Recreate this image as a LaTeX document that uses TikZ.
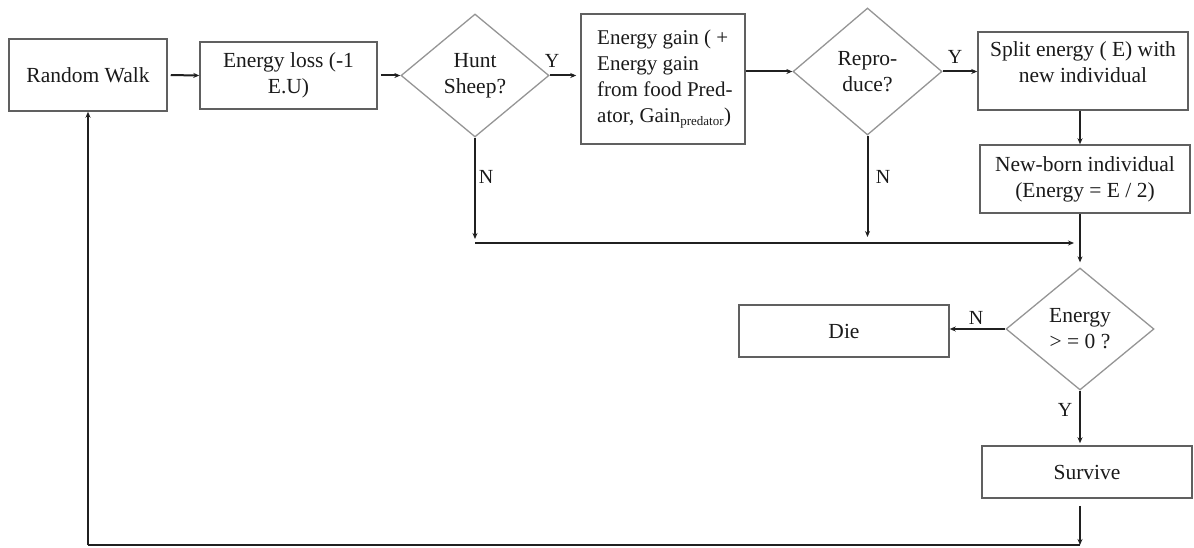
\documentclass[tikz,border=0pt]{standalone}
\usepackage{fontspec}
\setmainfont{Liberation Serif}
\usetikzlibrary{arrows.meta,shapes.geometric}
\definecolor{boxgray}{HTML}{606060}
\definecolor{diagray}{HTML}{959595}
\definecolor{linecol}{HTML}{202020}
\definecolor{txtcol}{HTML}{1A1A1A}
\begin{document}
\begin{tikzpicture}[x=1pt,y=-1pt,
  every node/.style={text=txtcol, font=\fontsize{21.5}{26}\selectfont},
  box/.style={draw=boxgray, line width=1.5pt, rectangle, inner sep=0pt, align=center},
  dia/.style={draw=diagray, line width=1.3pt, diamond, inner sep=0pt, align=center},
  conn/.style={draw=linecol, line width=2pt},
  arr/.style={conn, -{Stealth[length=6pt,width=5pt]}},
  lbl/.style={font=\fontsize{20}{24}\selectfont}]
\useasboundingbox (0,0) rectangle (1194,548);

% nodes
\node[box, minimum width=158, minimum height=72] (rw) at (88,75) {Random Walk};
\node[box, minimum width=177, minimum height=67] (el) at (288.5,75.5) {Energy loss (-1\\E.U)};
\node[dia, minimum width=148, minimum height=123] (hunt) at (475,75.5) {Hunt\\Sheep?};
\node[box, minimum width=164, minimum height=130] (gain) at (663,79) {};
\node[anchor=west, align=left, inner sep=0pt, font=\fontsize{21}{26}\selectfont] (gaintxt) at (597,79)
  {Energy gain ( +\\Energy gain\\from food Pred-\\ator, Gain\textsubscript{\fontsize{13}{14}\selectfont predator})};
\node[dia, minimum width=149, minimum height=127] (repro) at (867.5,71.5) {Repro-\\duce?};
\node[box, minimum width=210, minimum height=78] (split) at (1083,71) {};
\node[align=center, inner sep=0pt] (splittxt) at (1083,62) {Split energy ( E) with\\new individual};
\node[box, minimum width=210, minimum height=68] (newborn) at (1085,179) {New-born individual\\(Energy = E / 2)};
\node[dia, minimum width=148, minimum height=122] (energy) at (1080,329) {Energy\\> = 0 ?};
\node[box, minimum width=210, minimum height=52] (die) at (844,331) {Die};
\node[box, minimum width=210, minimum height=52] (survive) at (1087,472) {Survive};

% helper coordinates
\coordinate (hline) at (475,243);
\coordinate (bl) at (1080,545);
\coordinate (bll) at (88,545);

% connectors
\draw[arr, shorten <=3pt] (rw.east) -- (el.west);
\draw[arr, shorten <=3pt] (el.east) -- (hunt.west);
\draw[arr, shorten >=4pt] (hunt.east) -- (hunt.east -| gain.west);
\draw[arr] (repro.west -| gain.east) -- (repro.west);
\draw[arr] (repro.east) -- (repro.east -| split.west);
\draw[arr] (split.south -| energy.north) -- (newborn.north -| energy.north);
\draw[arr, shorten >=5pt] (newborn.south -| energy.north) -- (energy.north);
\draw[arr, shorten >=4pt] (hunt.south) -- (hline);
\draw[arr, shorten >=6pt] (repro.south) -- (repro.south |- hline);
\draw[arr, shorten >=6pt] (hline) -- (hline -| energy.north);
\draw[arr] (energy.west) -- (energy.west -| die.east);
\draw[arr, shorten >=2pt] (energy.south) -- (survive.north -| energy.south);
\draw[arr, shorten <=7pt] (survive.south -| bl) -- (bl);
\draw[conn] (bl) -- (bll);
\draw[arr] (bll) -- (rw.south);

% labels
\node[lbl] (yhunt) at (552,61) {Y};
\node[lbl] (nhunt) at (486,177) {N};
\node[lbl] (yrepro) at (955,57) {Y};
\node[lbl] (nrepro) at (883,177) {N};
\node[lbl] (nenergy) at (976,318) {N};
\node[lbl] (yenergy) at (1065,410) {Y};
\end{tikzpicture}
\end{document}
